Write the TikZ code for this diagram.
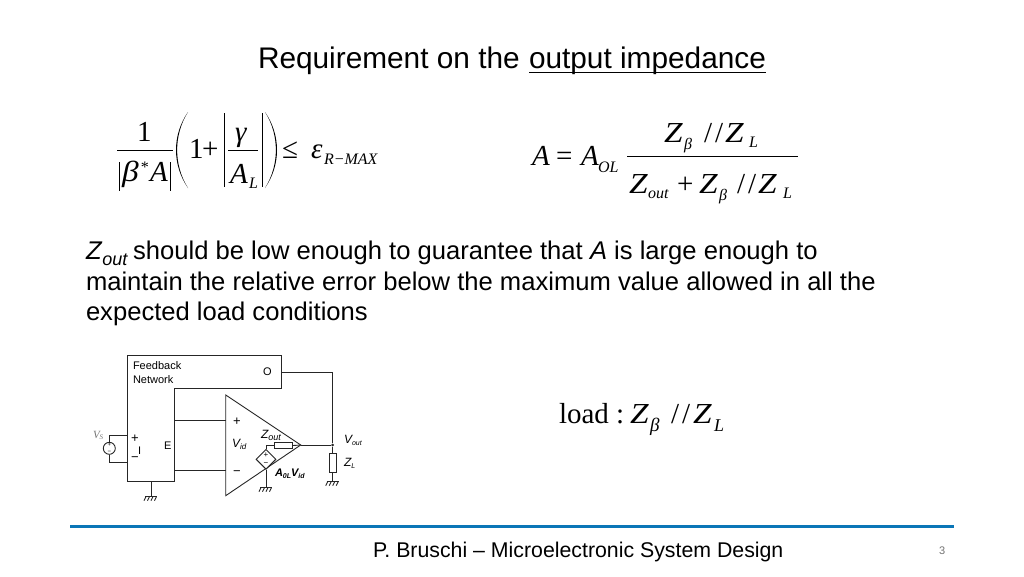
\documentclass[tikz,border=0pt]{standalone}
\usepackage{fontspec}
\setmainfont{Liberation Sans}
\newfontfamily\serif{Liberation Serif}
\usetikzlibrary{shapes.geometric}
\newcommand{\fs}[1]{\fontsize{#1}{#1}\selectfont}
\newcommand{\wide}[1]{\scalebox{1.15}[1]{#1}}
\definecolor{rulecol}{HTML}{0B76B7}
\tikzset{
  x=1pt,y=-1pt,
  txt/.style={anchor=base west,inner sep=0pt,outer sep=0pt},
  eq/.style={txt,font=\serif\fs{29}},
  eqi/.style={txt,font=\serif\itshape\fs{29}},
  sub/.style={txt,font=\serif\itshape\fs{16}},
  lab/.style={txt,font=\fs{11}},
  labi/.style={txt,font=\itshape\fs{12}},
  wire/.style={draw=black!85,line width=0.9pt},
  res/.style={draw=black!85,line width=0.9pt,fill=white,inner sep=0pt},
  bar/.style={line width=1pt},
  gnd/.pic={
    \draw[wire] (-6,0) -- (6,0);
    \foreach \i in {-5,-1.5,2,5.5}
      \draw[wire] (\i,0) -- ++(-2,4);
  }
}
\begin{document}
\begin{tikzpicture}
  \useasboundingbox (0,0) rectangle (1024,576);
  % title and text
  \node[txt,font=\fs{29.8}] (title) at (258,68) {Requirement on the};
  \node[txt,font=\fs{29.8}] (imp) at (529,68) {output impedance};
  \draw[line width=1.3pt] ([yshift=-4.5pt]imp.base west) -- ([yshift=-4.5pt]imp.base east);
  \node[txt,font=\fs{25.6}] (line1) at (86,259) {\textit{Z}\raisebox{-6pt}{\fs{18}\textit{out}}\kern-2pt{} should be low enough to guarantee that \textit{A} is large enough to};
  \node[txt,font=\fs{25.6}] (line2) at (86,290) {maintain the relative error below the maximum value allowed in all the};
  \node[txt,font=\fs{25.6}] (line3) at (86,320) {expected load conditions};
  % left formula
  \node[eq] (one) at (137,141) {1};
  \coordinate (fa) at (117,150);
  \coordinate (fb) at (173,150);
  \draw[bar] (fa) -- (fb);
  \draw[bar] (119.5,162) -- (119.5,191) (170.5,162) -- (170.5,191);
  \node[eqi] (beta) at (122,181) {\wide{β}};
  \node[sub] (star) at (140,172) {*};
  \node[eqi] (ab) at (150,181) {A};
  \fill (188,112) .. controls (172,135) and (172,165) .. (188,188)
    .. controls (173.5,165) and (173.5,135) .. (188,112);
  \node[eq] (one2) at (189,158) {1};
  \node[eq] (plus) at (202,158) {+};
  \draw[bar] (224,113) -- (224,187) (262,113) -- (262,187);
  \coordinate (ga) at (228,150);
  \coordinate (gb) at (258,150);
  \draw[bar] (ga) -- (gb);
  \node[eqi] (gam) at (235,141) {γ};
  \node[eqi] (al) at (230,183) {A};
  \node[sub] (lsub) at (249,188) {L};
  \fill (265,112) .. controls (281,135) and (281,165) .. (265,188)
    .. controls (279.5,165) and (279.5,135) .. (265,112);
  \node[eq] (leq) at (282,158) {≤};
  \node[eqi] (eps) at (311,158) {ε};
  \node[sub] (rmax) at (324,164) {R−MAX};
  % right formula
  \node[eqi] (a) at (532,165) {A};
  \node[eq] (eqs) at (556,165) {=};
  \node[eqi] (aol) at (581,165) {A};
  \node[sub] (ol) at (598,172) {OL};
  \coordinate (ra) at (627,156);
  \coordinate (rb) at (798,156);
  \draw[bar] (ra) -- (rb);
  \node[eqi] (nz) at (664,142) {\wide{Z}};
  \node[sub] (nb) at (684,149) {β};
  \node[eq] (ns) at (704,142) {/\hspace{3pt}/};
  \node[eqi] (nzl) at (725,142) {\wide{Z}};
  \node[sub] (nl) at (749,147) {L};
  \node[eqi] (dz) at (629,193) {\wide{Z}};
  \node[sub] (dout) at (648,198) {out};
  \node[eq] (dp) at (677,193) {+};
  \node[eqi] (dz2) at (699,193) {\wide{Z}};
  \node[sub] (db) at (719,200) {β};
  \node[eq] (ds) at (737,193) {/\hspace{3pt}/};
  \node[eqi] (dzl) at (758,193) {\wide{Z}};
  \node[sub] (dl) at (783,198) {L};
  % load
  \node[eq] (load) at (559,423) {load :};
  \node[eqi] (lz) at (630,423) {\wide{Z}};
  \node[sub,font=\serif\itshape\fs{19}] (lb) at (650,431) {β};
  \node[eq] (ls) at (671,423) {/\hspace{3pt}/};
  \node[eqi] (lzl) at (693,423) {\wide{Z}};
  \node[sub,font=\serif\itshape\fs{18}] (ll) at (714,431) {L};
  % feedback block
  \coordinate (fbo) at (281,372);
  \coordinate (fbp) at (174.3,420.3);
  \coordinate (fbm) at (174.3,470.7);
  \draw[wire] (127.7,355.7) -- (281,355.7) -- (281,388.3) -- (174.3,388.3)
    -- (174.3,481.7) -- (127.7,481.7) -- cycle;
  \node[lab] (fb1) at (133,369) {Feedback};
  \node[lab] (fb2) at (133,383) {Network};
  \node[lab] (po) at (263,375) {O};
  \node[lab] (pe) at (164,449) {E};
  \node[lab,font=\fs{13}] (pp) at (131,442) {+};
  \node[lab] (pi) at (138,454) {I};
  \node[lab,font=\fs{13}] (pm) at (131,461) {−};
  % amplifier
  \coordinate (ap) at (225.7,420.3);
  \coordinate (am) at (225.7,470.7);
  \coordinate (tip) at (300.7,445);
  \draw[wire] (225.7,395) -- (tip) -- (225.7,495.7) -- cycle;
  \draw[wire] (fbp) -- (ap);
  \draw[wire] (fbm) -- (am);
  \node[lab,font=\fs{13}] (ip) at (233,425) {+};
  \node[lab,font=\fs{13}] (im) at (233,475) {−};
  \node[labi] (vid) at (232,447) {V\raisebox{-2pt}{\fs{8}id}};
  % output stage
  \node[res,minimum width=18.7pt,minimum height=6.4pt] (zout) at (283.3,445.5) {};
  \node[res,diamond,aspect=1,minimum size=20pt] (dep) at (266,459.3) {};
  \node[font=\fs{8},inner sep=0pt] (depp) at (266,455) {+};
  \node[font=\fs{8},inner sep=0pt] (depm) at (266,464) {−};
  \coordinate (jz) at (266,445.5);
  \coordinate (gd) at (266,487.7);
  \draw[wire] (dep.north) -- (jz) -- (zout.west);
  \draw[wire] (zout.east) -- (tip);
  \draw[wire] (dep.south) -- (gd);
  \pic at (gd) {gnd};
  \node[labi] (zo) at (261,438) {Z\raisebox{-2pt}{\fs{9}out}};
  \node[labi,font=\bfseries\itshape\fs{11}] (gain) at (275,476) {A\raisebox{-2pt}{\fs{7}0L}V\raisebox{-2pt}{\fs{7}id}};
  % load branch
  \coordinate (corner) at (332.7,372);
  \node[circle,fill=black!85,inner sep=0pt,minimum size=3pt] (out) at (332.7,445) {};
  \node[res,minimum width=6.7pt,minimum height=19pt] (zl) at (332.7,462.8) {};
  \coordinate (gl) at (332.7,481.7);
  \draw[wire] (fbo) -- (corner) -- (out);
  \draw[wire] (tip) -- (out) -- (zl.north);
  \draw[wire] (zl.south) -- (gl);
  \pic at (gl) {gnd};
  \node[labi] (vo) at (344,443) {V\raisebox{-2pt}{\fs{7}out}};
  \node[labi] (zll) at (344,466) {Z\raisebox{-2pt}{\fs{7}L}};
  % source
  \node[res,circle,minimum size=12pt] (vs) at (109.3,448.3) {};
  \node[font=\fs{6},inner sep=0pt] (vsp) at (109.3,445) {+};
  \node[font=\fs{6},inner sep=0pt] (vsm) at (109.3,452) {−};
  \coordinate (in1) at (127.7,435);
  \coordinate (in2) at (127.7,462.3);
  \draw[wire] (vs.north) |- (in1);
  \draw[wire] (vs.south) |- (in2);
  \node[txt,font=\serif\itshape\fs{11},text=black!55] (vsl) at (93,438) {V\raisebox{-1pt}{\fs{7}S}};
  % block ground
  \coordinate (gb0) at (151,481.7);
  \coordinate (gb1) at (151,496.7);
  \draw[wire] (gb0) -- (gb1);
  \pic at (gb1) {gnd};
  % footer
  \coordinate (fl) at (70,526);
  \coordinate (fr) at (954,526);
  \draw[rulecol,line width=3pt] (fl) -- (fr);
  \node[txt,font=\fs{21.3}] (foot) at (373,557) {P. Bruschi – Microelectronic System Design};
  \node[txt,font=\fs{11},text=black!55] (num) at (939,554) {3};
\end{tikzpicture}
\end{document}
